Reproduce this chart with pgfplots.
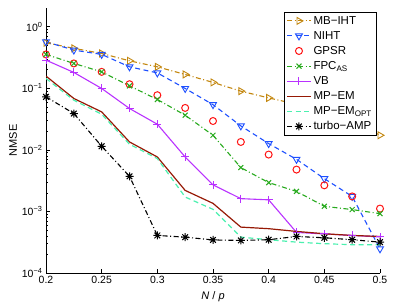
\documentclass[border=0pt]{standalone}
\usepackage{fontspec}
\setmainfont{Liberation Sans}
\usepackage{pgfplots}
\pgfplotsset{compat=1.18}
\usetikzlibrary{plotmarks}
\pgfdeclareplotmark{star8}{%
  \pgfpathmoveto{\pgfqpoint{-\pgfplotmarksize}{0pt}}\pgfpathlineto{\pgfqpoint{\pgfplotmarksize}{0pt}}%
  \pgfpathmoveto{\pgfqpoint{0pt}{-\pgfplotmarksize}}\pgfpathlineto{\pgfqpoint{0pt}{\pgfplotmarksize}}%
  \pgfpathmoveto{\pgfqpoint{-0.707\pgfplotmarksize}{-0.707\pgfplotmarksize}}\pgfpathlineto{\pgfqpoint{0.707\pgfplotmarksize}{0.707\pgfplotmarksize}}%
  \pgfpathmoveto{\pgfqpoint{-0.707\pgfplotmarksize}{0.707\pgfplotmarksize}}\pgfpathlineto{\pgfqpoint{0.707\pgfplotmarksize}{-0.707\pgfplotmarksize}}%
  \pgfusepathqstroke}
\definecolor{cmb}{RGB}{195,135,15}
\definecolor{cniht}{RGB}{30,80,255}
\definecolor{cgpsr}{RGB}{255,20,20}
\definecolor{cfpc}{RGB}{40,170,30}
\definecolor{cvb}{RGB}{185,50,255}
\definecolor{cmp}{RGB}{150,25,5}
\definecolor{cmpo}{RGB}{75,240,175}
\tikzset{
  mdashdot/.style={dash pattern=on 5pt off 2.5pt on 1pt off 2.5pt},
  mdashed/.style={dash pattern=on 5pt off 3.5pt},
}
\begin{document}
\begin{tikzpicture}
\begin{axis}[
  scale only axis, width=334pt, height=265pt,
  at={(0,0)}, anchor=south west,
  ymode=log, xmin=0.2, xmax=0.5, ymin=1e-4, ymax=2,
  axis x line=bottom, axis y line=left,
  axis line style={-, black, line width=0.5pt},
  tick align=inside, tick style={black, line width=0.4pt},
  major tick length=4pt, minor tick length=2pt,
  xtick={0.2,0.25,0.3,0.35,0.4,0.45,0.5},
  xticklabels={0.2,0.25,0.3,0.35,0.4,0.45,0.5},
  ytick={1e-4,1e-3,1e-2,1e-1,1},
  yticklabels={10\textsuperscript{−4},10\textsuperscript{−3},10\textsuperscript{−2},10\textsuperscript{−1},10\textsuperscript{0}},
  /pgf/number format/assume math mode=true,
  tick label style={font=\fontsize{10.5}{12}\selectfont},
  xlabel={\textit{N} / \textit{p}}, ylabel={NMSE},
  label style={font=\fontsize{11}{13}\selectfont},
  xlabel style={yshift=-1pt},
  ylabel style={yshift=-2pt},
  legend style={name=leg, at={(rel axis cs:0.988,0.985)}, anchor=north east, fill=white,
    font=\fontsize{11.5}{13}\selectfont, legend cell align=left, row sep=1.6pt, inner sep=2pt},
  legend image code/.code={\draw[mark repeat=2,mark phase=2] plot coordinates {(0cm,0cm)(0.42cm,0cm)(0.84cm,0cm)};},
  every axis plot/.append style={line width=1.1pt},
]
\addplot[cmb, mdashdot, mark=triangle, mark size=4pt, mark options={solid, rotate=-90, line width=0.9pt}] coordinates {
(0.2,0.546)(0.225,0.443)(0.25,0.366)(0.275,0.278)(0.3,0.222)(0.325,0.167)(0.35,0.124)(0.375,0.0894)(0.4,0.0695)(0.425,0.055)(0.45,0.042)(0.475,0.03)(0.5,0.0172)};
\addlegendentry{MB−IHT}
\addplot[cniht, mdashed, mark=triangle, mark size=4pt, mark options={solid, rotate=180, line width=0.9pt}] coordinates {
(0.2,0.566)(0.225,0.415)(0.25,0.353)(0.275,0.222)(0.3,0.177)(0.325,0.0989)(0.35,0.054)(0.375,0.0244)(0.4,0.0126)(0.425,0.0070)(0.45,0.0034)(0.475,0.00175)(0.5,0.000247)};
\addlegendentry{NIHT}
\addplot[cgpsr, only marks, mark=o, mark size=3.5pt, mark options={line width=1pt}] coordinates {
(0.2,0.353)(0.225,0.252)(0.25,0.184)(0.275,0.116)(0.3,0.0769)(0.325,0.0478)(0.35,0.0293)(0.375,0.0134)(0.4,0.00836)(0.425,0.00477)(0.45,0.00265)(0.475,0.00175)(0.5,0.00111)};
\addlegendentry{GPSR}
\addplot[cfpc, mdashdot, mark=x, mark size=3.5pt, mark options={solid, line width=1pt}] coordinates {
(0.2,0.353)(0.225,0.252)(0.25,0.184)(0.275,0.109)(0.3,0.0655)(0.325,0.0364)(0.35,0.0172)(0.375,0.00514)(0.4,0.00293)(0.425,0.00211)(0.45,0.00121)(0.475,0.00107)(0.5,0.00092)};
\addlegendentry{FPC\textsubscript{AS}}
\addplot[cvb, solid, mark=+, mark size=4pt, mark options={solid, line width=1pt}] coordinates {
(0.2,0.285)(0.225,0.180)(0.25,0.0989)(0.275,0.0468)(0.3,0.026)(0.325,0.00764)(0.35,0.0027)(0.375,0.00161)(0.4,0.00154)(0.425,0.000456)(0.45,0.00043)(0.475,0.000407)(0.5,0.000385)};
\addlegendentry{VB}
\addplot[cmp, solid, no markers, line width=1.2pt] coordinates {
(0.2,0.157)(0.225,0.068)(0.25,0.0412)(0.275,0.0134)(0.3,0.00764)(0.325,0.00219)(0.35,0.00135)(0.375,0.000556)(0.4,0.000524)(0.425,0.000473)(0.45,0.000434)(0.475,0.000407)(0.5,0.000392)};
\addlegendentry{MP−EM}
\addplot[cmpo, mdashed, no markers, line width=1.2pt] coordinates {
(0.2,0.144)(0.225,0.0638)(0.25,0.0378)(0.275,0.0123)(0.3,0.0072)(0.325,0.00171)(0.35,0.00108)(0.375,0.000382)(0.4,0.000347)(0.425,0.000317)(0.45,0.000299)(0.475,0.000288)(0.5,0.000288)};
\addlegendentry{MP−EM\textsubscript{OPT}}
\addplot[black, mdashdot, mark=star8, mark size=4pt, mark options={solid, line width=1pt}] coordinates {
(0.2,0.0723)(0.225,0.0388)(0.25,0.0114)(0.275,0.00371)(0.3,0.000407)(0.325,0.000382)(0.35,0.000344)(0.375,0.000338)(0.4,0.000347)(0.425,0.000392)(0.45,0.000373)(0.475,0.000347)(0.5,0.000317)};
\addlegendentry{turbo−AMP}
\end{axis}
\draw[black, line width=0.7pt] (leg.south west) rectangle (leg.north east);
\pgfresetboundingbox
\path[use as bounding box] (-46pt,-32pt) rectangle (349pt,273pt);
\end{tikzpicture}
\end{document}
